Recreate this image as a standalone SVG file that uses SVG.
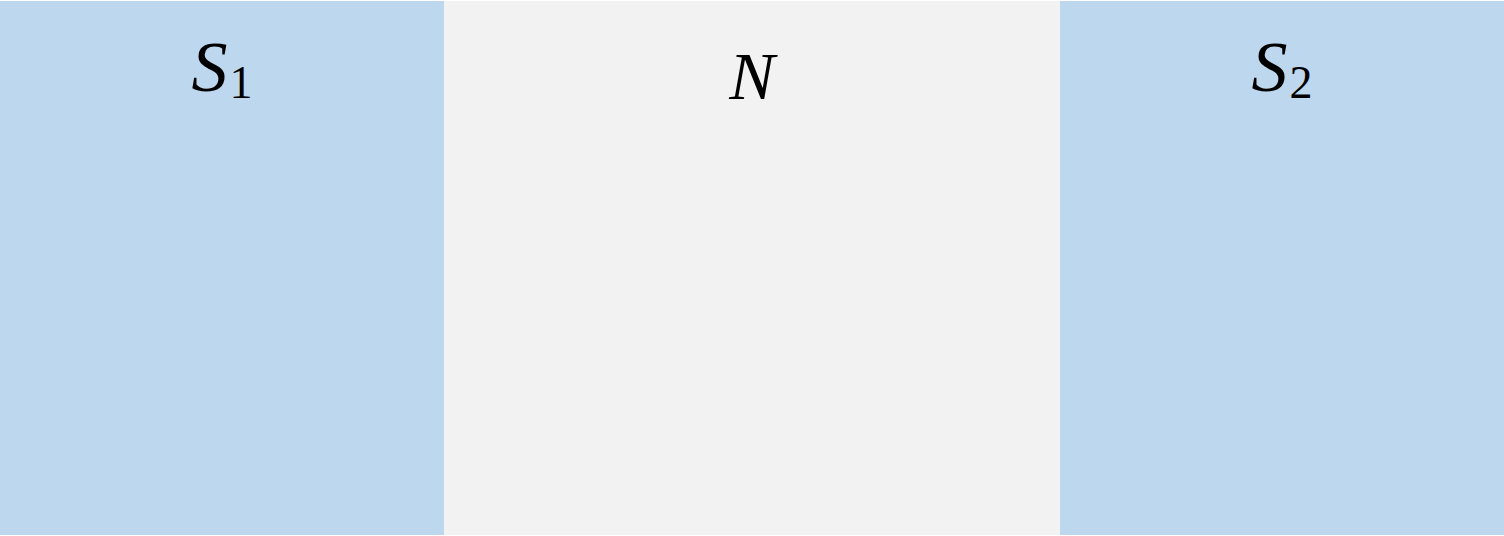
<svg xmlns="http://www.w3.org/2000/svg" width="1504" height="536" viewBox="0 0 1504 536">
<style>
.sc{fill:#BDD7EE}
.n{fill:#F2F2F2}
.m{font-family:"Liberation Serif","DejaVu Serif",serif;font-style:italic;font-size:72px;fill:#000}
.sub{font-style:normal;font-size:46px}
</style>
<rect width="1504" height="536" fill="#FFFFFF"/>
<g id="S1">
<rect class="sc" x="0" y="1" width="444" height="534"/>
<text class="m" x="222" y="91" text-anchor="middle">S<tspan class="sub" dx="2" dy="7">1</tspan></text>
</g>
<g id="N">
<rect class="n" x="444" y="1" width="616" height="534"/>
<text class="m" x="752" y="99" text-anchor="middle" style="font-size:68px">N</text>
</g>
<g id="S2">
<rect class="sc" x="1060" y="1" width="444" height="534"/>
<text class="m" x="1282" y="91" text-anchor="middle">S<tspan class="sub" dx="2" dy="7">2</tspan></text>
</g>
<g id="connectors"/>
</svg>
